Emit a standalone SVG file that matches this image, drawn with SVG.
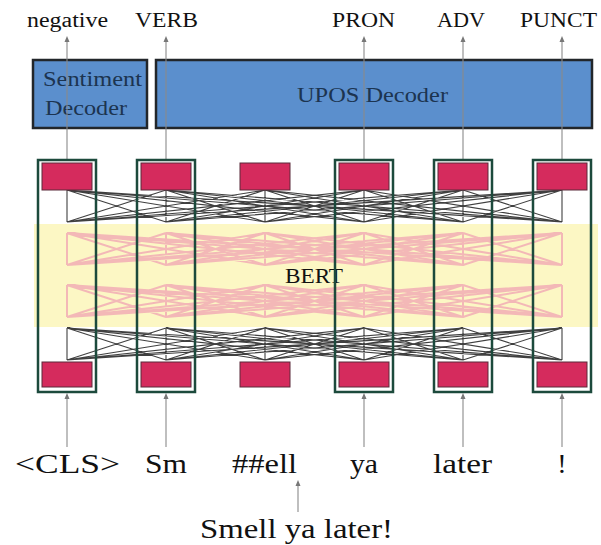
<svg xmlns="http://www.w3.org/2000/svg" xmlns:xlink="http://www.w3.org/1999/xlink" width="601" height="545" viewBox="0 0 601 545">
<style>
text{font-family:"Liberation Serif","Times New Roman",serif;fill:#111111}
.lbl{font-size:20px}
.tok{font-size:28px}
.dec{fill:#5b8fcd;stroke:#22262a;stroke-width:2.5}
.dtx{font-size:21px;fill:#1c3450}
.frame{fill:none;stroke:#1c4a3c;stroke-width:2.5}
.emb{fill:#d52b5d;stroke:#5a2a3a;stroke-width:1}
.conn{stroke:#8a8a8a;stroke-width:1.1;fill:none}
.att{stroke:#1e1e1e;stroke-width:1.1;fill:none;stroke-opacity:0.85}
.ffn{stroke:#f2b0b6;stroke-width:2;fill:none;stroke-opacity:0.9}
</style>
<defs>
<marker id="ah" markerUnits="userSpaceOnUse" markerWidth="8" markerHeight="8" refX="4" refY="4" orient="auto">
<path d="M0,1.5 L6,4 L0,6.5 Z" fill="#777"/>
</marker>
<path id="mesh" d="M67 0L67 32M67 0L166 32M67 0L265 32M67 0L364 32M67 0L463 32M67 0L562 32M166 0L67 32M166 0L166 32M166 0L265 32M166 0L364 32M166 0L463 32M166 0L562 32M265 0L67 32M265 0L166 32M265 0L265 32M265 0L364 32M265 0L463 32M265 0L562 32M364 0L67 32M364 0L166 32M364 0L265 32M364 0L364 32M364 0L463 32M364 0L562 32M463 0L67 32M463 0L166 32M463 0L265 32M463 0L364 32M463 0L463 32M463 0L562 32M562 0L67 32M562 0L166 32M562 0L265 32M562 0L364 32M562 0L463 32M562 0L562 32"/>
</defs>
<rect width="601" height="545" fill="#ffffff"/>

<g id="bert">
<rect x="34" y="224" width="564" height="103" fill="#fcf7c4"/>
<use xlink:href="#mesh" href="#mesh" y="233" class="ffn"/>
<use xlink:href="#mesh" href="#mesh" y="285" class="ffn"/>
<use xlink:href="#mesh" href="#mesh" y="190" class="att"/>
<use xlink:href="#mesh" href="#mesh" y="328" class="att"/>
<text x="285" y="283" style="font-size:22px" textLength="58" lengthAdjust="spacingAndGlyphs">BERT</text>
</g>

<g id="sentiment-decoder">
<rect class="dec" x="33" y="60" width="114" height="68"/>
<text class="dtx" x="43" y="86" textLength="99" lengthAdjust="spacingAndGlyphs">Sentiment</text>
<text class="dtx" x="45" y="115" textLength="82" lengthAdjust="spacingAndGlyphs">Decoder</text>
</g>
<g id="upos-decoder">
<rect class="dec" x="156" y="60" width="436" height="68"/>
<text class="dtx" x="297" y="102" textLength="151" lengthAdjust="spacingAndGlyphs">UPOS Decoder</text>
</g>

<g id="connectors">
<line class="conn" x1="67" y1="160" x2="67" y2="38" marker-end="url(#ah)"/>
<line class="conn" x1="166" y1="160" x2="166" y2="38" marker-end="url(#ah)"/>
<line class="conn" x1="364" y1="160" x2="364" y2="38" marker-end="url(#ah)"/>
<line class="conn" x1="463" y1="160" x2="463" y2="38" marker-end="url(#ah)"/>
<line class="conn" x1="562" y1="160" x2="562" y2="38" marker-end="url(#ah)"/>
<line class="conn" x1="67" y1="447" x2="67" y2="395" marker-end="url(#ah)"/>
<line class="conn" x1="166" y1="447" x2="166" y2="395" marker-end="url(#ah)"/>
<line class="conn" x1="364" y1="447" x2="364" y2="395" marker-end="url(#ah)"/>
<line class="conn" x1="463" y1="447" x2="463" y2="395" marker-end="url(#ah)"/>
<line class="conn" x1="562" y1="447" x2="562" y2="395" marker-end="url(#ah)"/>
<line class="conn" x1="298" y1="512" x2="298" y2="482" marker-end="url(#ah)"/>
</g>

<g id="col-cls">
<rect class="emb" x="42" y="163" width="50" height="27"/>
<rect class="emb" x="42" y="362" width="50" height="25"/>
<rect class="frame" x="38" y="160" width="58" height="232"/>
</g>
<g id="col-sm">
<rect class="emb" x="141" y="163" width="50" height="27"/>
<rect class="emb" x="141" y="362" width="50" height="25"/>
<rect class="frame" x="137" y="160" width="58" height="232"/>
</g>
<g id="col-ell">
<rect class="emb" x="240" y="163" width="50" height="27"/>
<rect class="emb" x="240" y="362" width="50" height="25"/>
</g>
<g id="col-ya">
<rect class="emb" x="339" y="163" width="50" height="27"/>
<rect class="emb" x="339" y="362" width="50" height="25"/>
<rect class="frame" x="335" y="160" width="58" height="232"/>
</g>
<g id="col-later">
<rect class="emb" x="438" y="163" width="50" height="27"/>
<rect class="emb" x="438" y="362" width="50" height="25"/>
<rect class="frame" x="434" y="160" width="58" height="232"/>
</g>
<g id="col-punct">
<rect class="emb" x="537" y="163" width="50" height="27"/>
<rect class="emb" x="537" y="362" width="50" height="25"/>
<rect class="frame" x="533" y="160" width="58" height="232"/>
</g>

<g id="outputs">
<text class="lbl" x="27" y="27" textLength="81" lengthAdjust="spacingAndGlyphs">negative</text>
<text class="lbl" x="135" y="27" textLength="63" lengthAdjust="spacingAndGlyphs">VERB</text>
<text class="lbl" x="332" y="27" textLength="63" lengthAdjust="spacingAndGlyphs">PRON</text>
<text class="lbl" x="437" y="27" textLength="48" lengthAdjust="spacingAndGlyphs">ADV</text>
<text class="lbl" x="520" y="27" textLength="77" lengthAdjust="spacingAndGlyphs">PUNCT</text>
</g>

<g id="tokens">
<text class="tok" x="15" y="473" textLength="105" lengthAdjust="spacingAndGlyphs">&lt;CLS&gt;</text>
<text class="tok" x="145" y="473" textLength="42" lengthAdjust="spacingAndGlyphs">Sm</text>
<text class="tok" x="232" y="473" textLength="65" lengthAdjust="spacingAndGlyphs">##ell</text>
<text class="tok" x="350" y="473" textLength="28" lengthAdjust="spacingAndGlyphs">ya</text>
<text class="tok" x="433" y="473" textLength="59" lengthAdjust="spacingAndGlyphs">later</text>
<text class="tok" x="562" y="473" text-anchor="middle">!</text>
</g>

<g id="sentence">
<text class="tok" x="200" y="538" textLength="193" lengthAdjust="spacingAndGlyphs">Smell ya later!</text>
</g>
</svg>
